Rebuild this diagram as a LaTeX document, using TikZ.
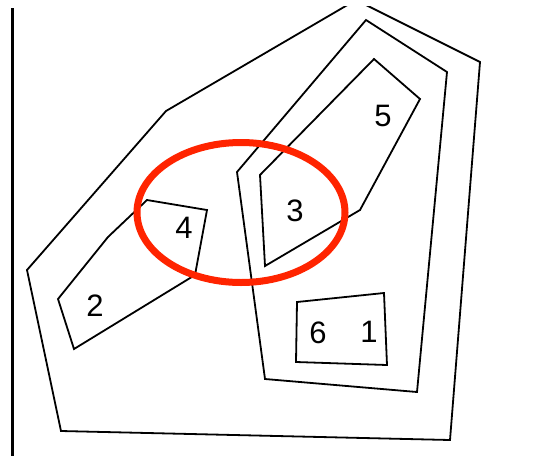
\documentclass[tikz,border=0pt]{standalone}
\usepackage{fontspec}
\setmainfont{Liberation Sans}
\usepackage{tikz}
\usetikzlibrary{calc}
\usepackage{xcolor}
\definecolor{myred}{RGB}{255,36,0}

\begin{document}
\begin{tikzpicture}[x=1pt,y=-1pt,
  setline/.style={line width=1.8pt, line join=miter},
  setlabel/.style={font=\fontsize{31}{31}\selectfont, inner sep=0pt}]
  \useasboundingbox (0,0) rectangle (554,456);

  % left rule
  \draw[line width=3pt] (12,8) -- (12,456);

  % outer set (its apex is cut off at the top)
  \begin{scope}
    \clip (0,6.5) rectangle (554,456);
    \draw[setline] (356,0) -- (480,62) -- (450,440) -- (61,431) -- (27,270) -- (166,111) -- cycle;
  \end{scope}

  % middle set
  \draw[setline] (366,20) -- (447,72) -- (417,392) -- (265,379) -- (237,172) -- cycle;

  % set of 3 and 5
  \draw[setline] (374,59) -- (420,99) -- (360,210) -- (265,266) -- (260,175) -- cycle;

  % set of 2 and 4
  \draw[setline] (147,200) -- (207,210) -- (195,275) -- (74,349) -- (58,299) -- (108,237) -- cycle;

  % set of 6 and 1
  \draw[setline] (297,302) -- (384,293) -- (387,365) -- (296,362) -- cycle;

  % labels
  \node[setlabel] (l2) at (95,306) {2};
  \node[setlabel] (l4) at (184,228) {4};
  \node[setlabel] (l3) at (295,211) {3};
  \node[setlabel] (l5) at (383,116) {5};
  \node[setlabel] (l6) at (318,333) {6};
  \node[setlabel] (l1) at (369,332) {1};

  % highlight
  \draw[myred, line width=7pt] (241,212.5) ellipse [x radius=104, y radius=70];
\end{tikzpicture}
\end{document}
